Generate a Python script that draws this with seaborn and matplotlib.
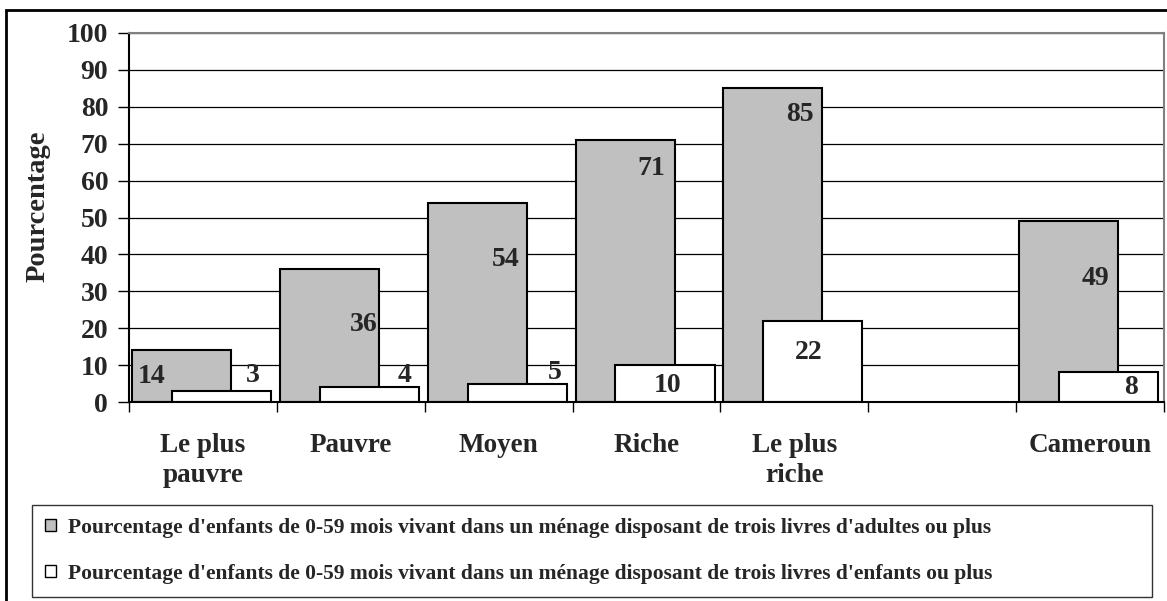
import matplotlib
matplotlib.use('Agg')
import matplotlib.pyplot as plt
import matplotlib.patches as mpatches
import numpy as np
import pandas as pd
import seaborn as sns

# data
categories = ['Le plus\npauvre', 'Pauvre', 'Moyen', 'Riche', 'Le plus\nriche', '', 'Cameroun']
livres_adultes = [14, 36, 54, 71, 85, np.nan, 49]
livres_enfants = [3, 4, 5, 10, 22, np.nan, 8]
series_labels = ["Pourcentage d'enfants de 0-59 mois vivant dans un ménage disposant de trois livres d'adultes ou plus",
                 "Pourcentage d'enfants de 0-59 mois vivant dans un ménage disposant de trois livres d'enfants ou plus"]
y_ticks = list(range(0, 101, 10))

# where the value labels sit (offset from category centre, height)
adult_lbl_dx = [-0.345, 0.088, 0.047, 0.034, 0.04, 0, 0.034]
adult_lbl_y = [6.8, 20.9, 38.5, 63.4, 77.8, 0, 33.6]
child_lbl_dx = [0.338, 0.365, 0.378, 0.142, 0.10, 0, 0.277]
child_lbl_y = [7.3, 7.3, 7.9, 4.6, 13.3, 0, 3.8]

sns.set_style('white')
plt.rcParams['font.family'] = ['Liberation Serif', 'DejaVu Serif']
plt.rcParams['font.weight'] = 'bold'

df = pd.DataFrame({'cat': categories, 'adultes': livres_adultes, 'enfants': livres_enfants})

fig = plt.figure(figsize=(11.67, 6.01), dpi=100)
ax = fig.add_axes([129/1167, 1-402/601, 1035/1167, 369/601])
ax.set_axisbelow(True)

sns.barplot(data=df, x='cat', y='adultes', order=categories, color='#c0c0c0', saturation=1,
            width=0.67, edgecolor='black', linewidth=1.5, errorbar=None, ax=ax)
for bar in ax.containers[-1]:
    bar.set_x(bar.get_x() - 0.145)

sns.barplot(data=df, x='cat', y='enfants', order=categories, color='white', saturation=1,
            width=0.67, edgecolor='black', linewidth=1.5, errorbar=None, ax=ax)
for bar in ax.containers[-1]:
    bar.set_x(bar.get_x() + 0.125)

for i in range(len(categories)):
    if not np.isnan(livres_adultes[i]):
        ax.text(i + adult_lbl_dx[i], adult_lbl_y[i], f'{livres_adultes[i]:.0f}',
                ha='center', va='center', fontsize=20, fontweight='bold')
    if not np.isnan(livres_enfants[i]):
        ax.text(i + child_lbl_dx[i], child_lbl_y[i], f'{livres_enfants[i]:.0f}',
                ha='center', va='center', fontsize=20, fontweight='bold')

ax.set_xlim(-0.5, 6.5)
ax.set_ylim(0, 100)
ax.set_yticks(y_ticks)
ax.set_yticklabels([str(t) for t in y_ticks], fontsize=20, fontweight='bold')
ax.set_xticks(range(len(categories)))
ax.set_xticklabels(categories, fontsize=19.5, fontweight='bold')
for lbl in ax.get_xticklabels():
    lbl.set_linespacing(1.3)
ax.set_xticks(np.arange(-0.5, len(categories), 1), minor=True)
ax.tick_params(axis='x', which='major', bottom=True, length=0, pad=22)
ax.tick_params(axis='x', which='minor', bottom=True, length=7, width=1, direction='out', color='black')
ax.tick_params(axis='y', left=True, length=8, width=1, direction='out', pad=7, color='black')
ax.set_xlabel('')
ax.set_ylabel('Pourcentage', fontsize=20.5, fontweight='bold')
ax.yaxis.set_label_coords(-0.076, 0.53)

ax.yaxis.grid(True, color='black', linewidth=0.9)
ax.xaxis.grid(False)
for s in ['left', 'bottom']:
    ax.spines[s].set_color('black')
    ax.spines[s].set_linewidth(1.5)
for s in ['top', 'right']:
    ax.spines[s].set_color('#808080')
    ax.spines[s].set_linewidth(1.5)

handles = [mpatches.Patch(facecolor='#c0c0c0', edgecolor='black', linewidth=1),
           mpatches.Patch(facecolor='white', edgecolor='black', linewidth=1)]
leg = fig.legend(handles, series_labels, loc='upper left',
                 bbox_to_anchor=(32/1167, 1-594/601, 1120/1167, 89/601), mode='expand',
                 prop={'family': 'Liberation Serif', 'weight': 'bold', 'size': 15.5},
                 handlelength=0.5, handleheight=0.5, handletextpad=0.55,
                 labelspacing=1.2, borderpad=0.6, borderaxespad=0,
                 fancybox=False, frameon=True, edgecolor='black')
leg.get_frame().set_linewidth(1.0)

# outer frame of the chart area
fig.patches.append(mpatches.Rectangle((6/1167, -0.05), 1.2, 0.05 + 1 - 10/601,
                                      transform=fig.transFigure, fill=False,
                                      edgecolor='black', linewidth=2))

fig.savefig('out.png', dpi=100)
